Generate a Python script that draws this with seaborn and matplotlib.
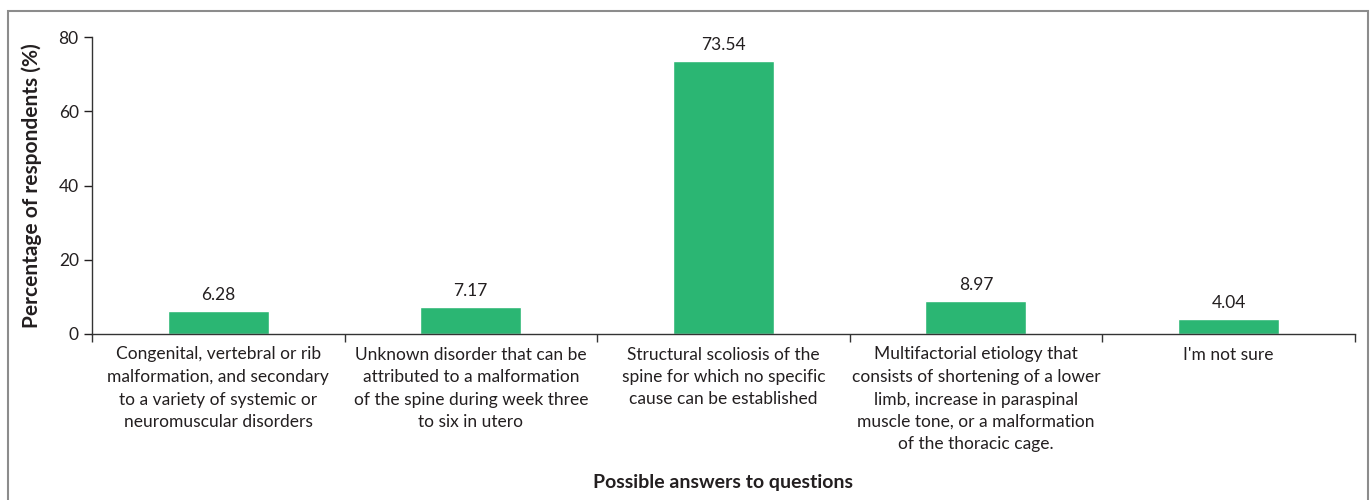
import numpy as np
import pandas as pd
import seaborn as sns
from matplotlib import pyplot as plt
from matplotlib.patches import Rectangle

answers = [
    "Congenital, vertebral or rib\nmalformation, and secondary\nto a variety of systemic or\nneuromuscular disorders",
    "Unknown disorder that can be\nattributed to a malformation\nof the spine during week three\nto six in utero",
    "Structural scoliosis of the\nspine for which no specific\ncause can be established",
    "Multifactorial etiology that\nconsists of shortening of a lower\nlimb, increase in paraspinal\nmuscle tone, or a malformation\nof the thoracic cage.",
    "I'm not sure",
]
percent = [6.28, 7.17, 73.54, 8.97, 4.04]
yticks = [0, 20, 40, 60, 80]

df = pd.DataFrame({"answer": answers, "percent": percent})

sns.set_style("ticks")
plt.rcParams['font.family'] = ['Lato', 'DejaVu Sans']
textcol = "#231f20"

fig = plt.figure(figsize=(13.72, 5.0), dpi=100)
ax = fig.add_axes([0.067, 0.332, 0.9205, 0.594])

sns.barplot(data=df, x="answer", y="percent", color="#2bb673", width=0.4,
            saturation=1, ax=ax)

for i, v in enumerate(percent):
    ax.text(i, v + 2.2, f"{v:.2f}", ha="center", va="bottom", fontsize=12.5, color=textcol)

ax.set_xlim(-0.5, len(answers) - 0.5)
ax.set_ylim(0, 80)
ax.set_yticks(yticks)
ax.tick_params(axis="y", labelsize=12.5, colors=textcol, length=6, width=1)
ax.set_xticks(range(len(answers)))
ax.set_xticklabels(answers, fontsize=12.5, color=textcol, linespacing=1.5, va="top")
ax.tick_params(axis="x", which="major", length=0, pad=9)
ax.set_xticks(np.arange(-0.5, len(answers)), minor=True)
ax.tick_params(axis="x", which="minor", length=6, width=1, color="#333333")

for s in ["top", "right"]:
    ax.spines[s].set_visible(False)
for s in ["left", "bottom"]:
    ax.spines[s].set_color("#333333")
    ax.spines[s].set_linewidth(1)

ax.set_ylabel("Percentage of respondents (%)", fontsize=15, fontweight="bold", color=textcol, labelpad=12)
ax.set_xlabel("Possible answers to questions", fontsize=14, fontweight="bold", color=textcol, labelpad=10)
ax.xaxis.set_label_coords(0.5, -0.47)

fig.patches.append(Rectangle((8 / 1372, -0.01), 1360 / 1372, 1 - 11 / 500 + 0.01,
                             transform=fig.transFigure, fill=False,
                             edgecolor="#8c8c8c", linewidth=1.5))

fig.savefig("out.png", dpi=100)
